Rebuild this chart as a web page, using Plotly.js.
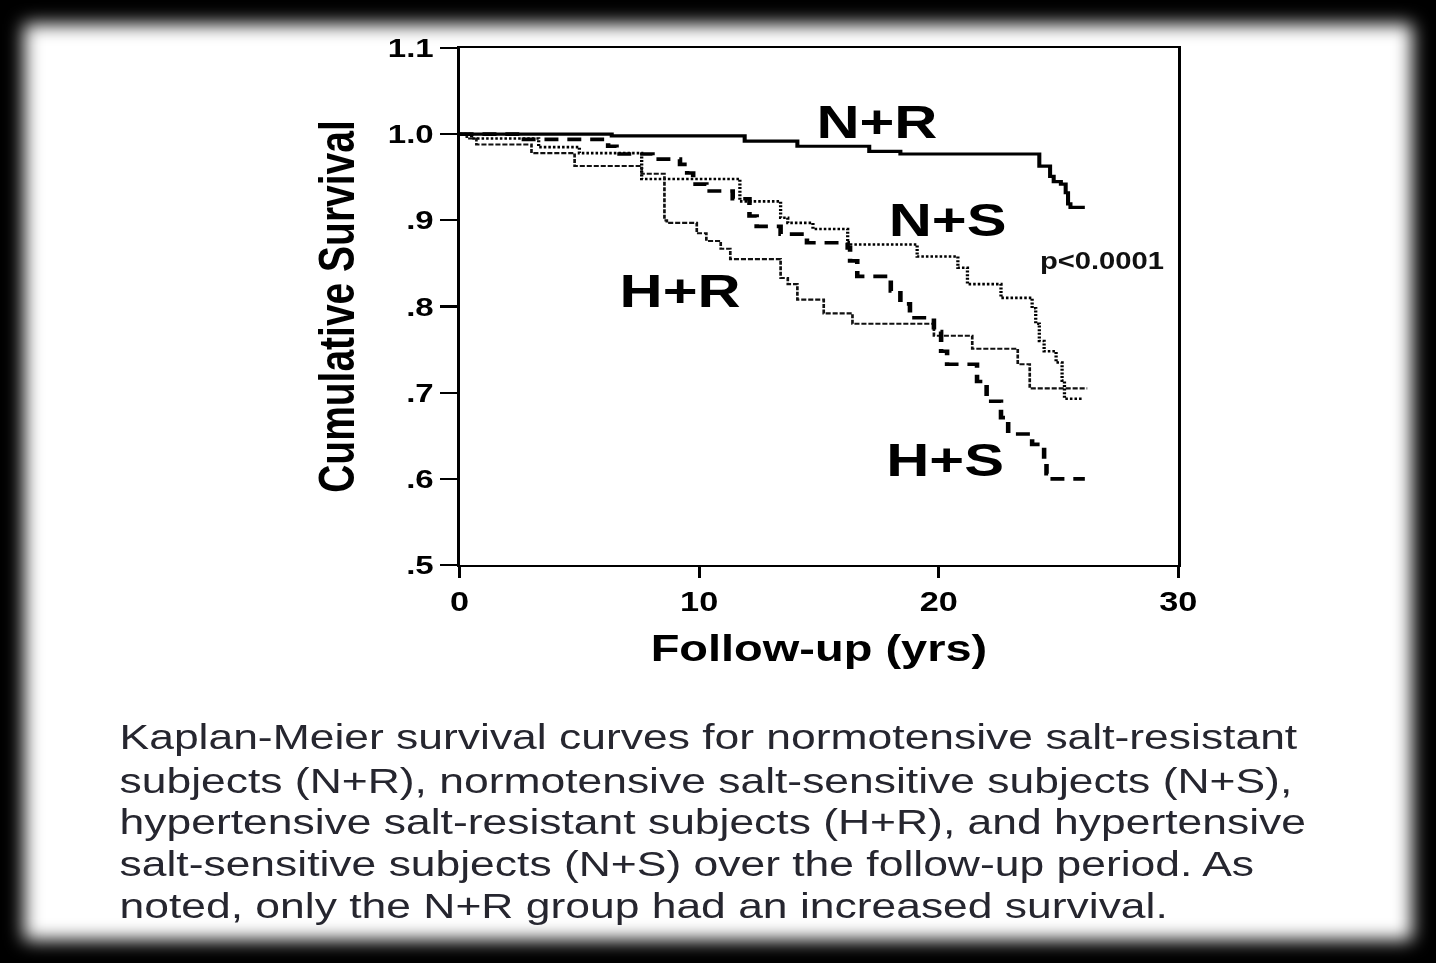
<!DOCTYPE html>
<html>
<head>
<meta charset="utf-8">
<script src="https://cdn.plot.ly/plotly-3.0.1.min.js"></script>
<style>
  html, body { margin: 0; padding: 0; background: #000; overflow: hidden; width: 1436px; height: 963px; }
  #paper { position: absolute; left: 24px; top: 24px; width: 1388px; height: 916px; background: #fff; filter: blur(9px); }
  #chart { position: absolute; left: 0; top: 0; width: 1131px; height: 963px; transform-origin: 0 0; transform: scaleX(1.26967); }
</style>
</head>
<body>
<div id="paper"></div>
<div id="chart"></div>
<script>
// Kaplan-Meier step data (follow-up years, cumulative survival)
const nrX = [0, 6.35, 11.9, 14.1, 17.1, 18.4, 24.2, 24.65, 24.8, 25.1, 25.3, 25.4, 25.5, 26.1];
const nrY = [1.0, 0.998, 0.992, 0.986, 0.980, 0.977, 0.963, 0.951, 0.945, 0.942, 0.932, 0.919, 0.915, 0.915];

const nsX = [0, 0.5, 3.3, 5.0, 7.6, 11.7, 13.4, 13.7, 14.75, 16.2, 19.1, 20.8, 21.2, 22.6, 23.9, 24.05, 24.2, 24.4, 24.9, 25.15, 25.25, 26.0];
const nsY = [1.0, 0.995, 0.985, 0.978, 0.948, 0.922, 0.903, 0.897, 0.890, 0.872, 0.858, 0.845, 0.826, 0.810, 0.798, 0.780, 0.760, 0.748, 0.735, 0.714, 0.693, 0.693];

const hrX = [0, 0.3, 0.7, 3.0, 4.8, 7.6, 8.55, 8.65, 9.9, 10.3, 10.9, 11.3, 13.4, 13.7, 14.1, 15.2, 16.4, 19.8, 21.4, 23.3, 23.8, 26.2];
const hrY = [1.0, 0.995, 0.988, 0.978, 0.963, 0.954, 0.900, 0.897, 0.885, 0.876, 0.867, 0.855, 0.833, 0.826, 0.808, 0.792, 0.780, 0.766, 0.751, 0.733, 0.705, 0.705];

const hsX = [0, 2.5, 6.2, 6.55, 8.05, 9.2, 9.5, 9.75, 10.3, 11.4, 12.1, 12.4, 13.4, 14.5, 16.2, 16.3, 16.6, 18.0, 18.4, 18.8, 19.8, 20.1, 20.35, 21.6, 22.0, 22.6, 22.9, 23.9, 24.4, 24.5, 24.65, 26.1];
const hsY = [1.0, 0.994, 0.986, 0.977, 0.971, 0.965, 0.955, 0.942, 0.934, 0.925, 0.905, 0.893, 0.884, 0.874, 0.868, 0.853, 0.835, 0.818, 0.803, 0.787, 0.771, 0.748, 0.733, 0.713, 0.690, 0.671, 0.652, 0.640, 0.621, 0.606, 0.600, 0.600];

const yTickVals = [0.5, 0.6, 0.7, 0.8, 0.9, 1.0, 1.1];
const yTickText = ['.5', '.6', '.7', '.8', '.9', '1.0', '1.1'];
const xTickVals = [0, 10, 20, 30];

const groupLabels = ['N+R', 'N+S', 'H+R', 'H+S'];
const labelX = [17.4, 20.4, 9.2, 20.3];
const labelY = [1.015, 0.901, 0.818, 0.623];

const pText = 'p<0.0001';
const captionLines = [
  'Kaplan-Meier survival curves for normotensive salt-resistant',
  'subjects (N+R), normotensive salt-sensitive subjects (N+S),',
  'hypertensive salt-resistant subjects (H+R), and hypertensive',
  'salt-sensitive subjects (N+S) over the follow-up period. As',
  'noted, only the N+R group had an increased survival.'
];

const FONT = 'Liberation Sans, Arial, Helvetica, sans-serif';

const traces = [
  {x: nrX, y: nrY, name: 'N+R', type: 'scatter', mode: 'lines',
   line: {shape: 'hv', color: '#000', width: 3.2}},
  {x: nsX, y: nsY, name: 'N+S', type: 'scatter', mode: 'lines',
   line: {shape: 'hv', color: '#000', width: 2.6, dash: '2px,1.6px'}},
  {x: hrX, y: hrY, name: 'H+R', type: 'scatter', mode: 'lines',
   line: {shape: 'hv', color: '#111', width: 2.1, dash: '4px,1.5px'}},
  {x: hsX, y: hsY, name: 'H+S', type: 'scatter', mode: 'lines',
   line: {shape: 'hv', color: '#000', width: 3.6, dash: '11px,7px'}}
];

const annotations = [];
groupLabels.forEach((t, i) => {
  annotations.push({x: labelX[i], y: labelY[i], xref: 'x', yref: 'y', text: t, showarrow: false,
    font: {family: FONT, size: 47, color: '#000', weight: 'bold'}, xanchor: 'center', yanchor: 'middle'});
});
annotations.push({x: 26.8, y: 0.853, xref: 'x', yref: 'y', text: pText, showarrow: false,
  font: {family: FONT, size: 23, color: '#111', weight: 'bold'}, xanchor: 'center', yanchor: 'middle'});

const plotL = 362, plotR = 928, plotT = 48, plotB = 565;
const capLeft = 91.5;
const capCenters = [737, 780, 822, 863, 905];
captionLines.forEach((t, i) => {
  annotations.push({
    xref: 'paper', yref: 'paper',
    x: (capLeft - plotL) / (plotR - plotL),
    y: (plotB - capCenters[i]) / (plotB - plotT),
    xanchor: 'left', yanchor: 'middle', text: t, showarrow: false,
    font: {family: FONT, size: 35, color: '#26262f'}
  });
});

const layout = {
  width: 1131, height: 963,
  margin: {l: plotL, r: 1131 - plotR, t: plotT, b: 963 - plotB, pad: 0},
  paper_bgcolor: 'rgba(0,0,0,0)', plot_bgcolor: 'rgba(0,0,0,0)',
  showlegend: false,
  xaxis: {
    range: [0, 30], tickvals: xTickVals, ticktext: xTickVals.map(String),
    showgrid: false, zeroline: false, showline: true, mirror: true,
    linecolor: '#000', linewidth: 2.2, ticks: 'outside', ticklen: 11, tickwidth: 2.2, tickcolor: '#000',
    tickfont: {family: FONT, size: 27, color: '#000', weight: 'bold'},
    title: {text: 'Follow-up (yrs)', standoff: 20, font: {family: FONT, size: 37, color: '#000', weight: 'bold'}}
  },
  yaxis: {
    range: [0.5, 1.1], tickvals: yTickVals, ticktext: yTickText,
    showgrid: false, zeroline: false, showline: true, mirror: true,
    linecolor: '#000', linewidth: 2.2, ticks: 'outside', ticklen: 13, tickwidth: 2.2, tickcolor: '#000',
    tickfont: {family: FONT, size: 26, color: '#000', weight: 'bold'},
    title: {text: 'Cumulative Survival', standoff: 14, font: {family: FONT, size: 39, color: '#000', weight: 'bold'}}
  },
  annotations: annotations
};

Plotly.newPlot('chart', traces, layout, {staticPlot: true, displayModeBar: false});
</script>
</body>
</html>
